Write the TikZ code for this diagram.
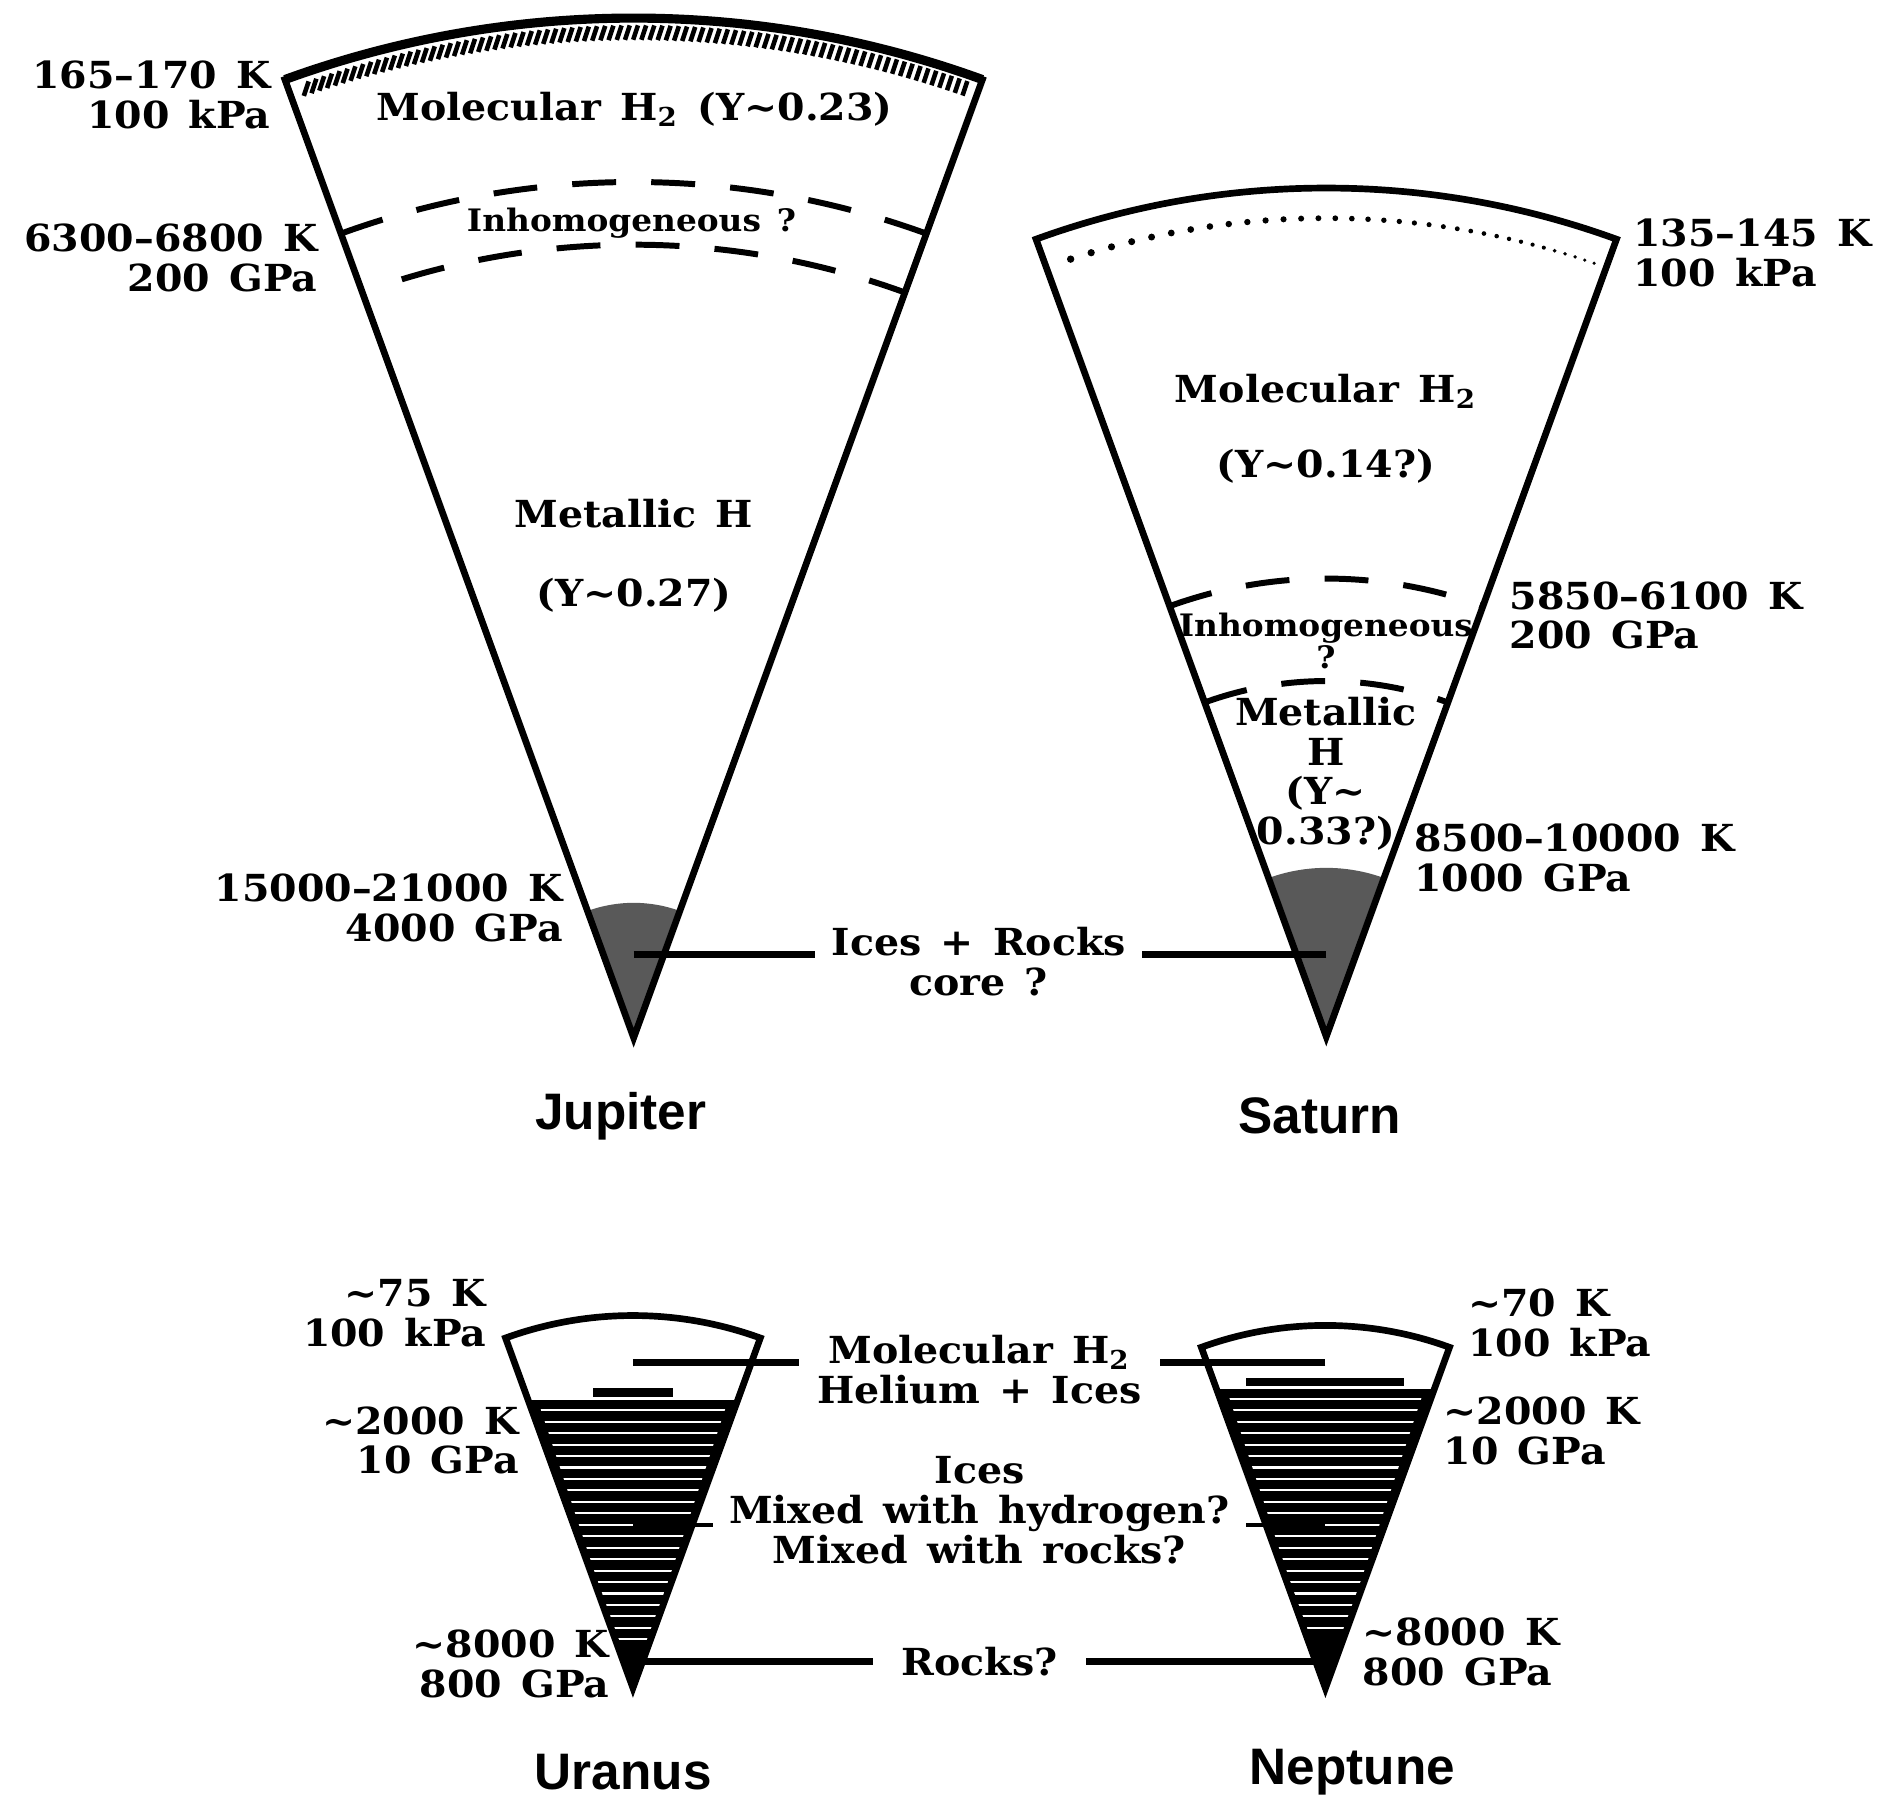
\documentclass[tikz,border=0pt]{standalone}
\usepackage{fontspec}
\newfontfamily\labfont{DejaVu Serif}[FakeStretch=1.06, WordSpace=1.4]
\newfontfamily\namefont{Liberation Sans}

\begin{document}
\begin{tikzpicture}[x=0.012054cm, y=-0.012054cm, every node/.style={inner sep=0pt, font={\labfont\bfseries\fontsize{10.6}{11.3}\selectfont}}]
    % 样式
    \tikzstyle{shell} = [line width=1.9pt, line join=miter]
    \tikzstyle{lead} = [line width=2pt]
    \tikzstyle{thinlead} = [line width=1pt]
    \tikzstyle{bound} = [line width=1.7pt, dash pattern=on 12.5pt off 10pt]
    \tikzstyle{core} = [fill=black!65]
    \tikzstyle{stripe} = [draw=white, line width=0.6pt]
    \tikzstyle{rlab} = [anchor=east, align=right]
    \tikzstyle{llab} = [anchor=west, align=left]
    \tikzstyle{smalltext} = [font={\labfont\bfseries\fontsize{8.8}{9.5}\selectfont}]
    \tikzstyle{planet} = [font={\namefont\bfseries\fontsize{14.6}{16}\selectfont}]

    \fill[white] (0,0) rectangle (1568,1509);
    \useasboundingbox (0,0) rectangle (1568,1509);

    % 顶点
    \coordinate (J) at (525.7,861);
    \coordinate (S) at (1100.3,860);
    \coordinate (U) at (525.1,1400.4);
    \coordinate (N) at (1099.6,1400.6);

    % 木星
    \fill[core, shift={(J)}] (0,0) -- (-110:112) arc (-110:-70:112) -- cycle;
    \foreach \a in {-109.3,-108.83,...,-70.7}
        \draw[line width=1.3pt, shift={(J)}] (\a:828) -- ++(4,-12);
    \draw[shell, shift={(J)}] (0,0) -- (-110:846) arc (-110:-70:846) -- cycle;
    \draw[line width=2.6pt, shift={(J)}] (-110:846) arc (-110:-70:846);
    \draw[bound, shift={(J)}] (-110:710) arc (-110:-70:710);
    \draw[bound, shift={(J)}] (-107:658) arc (-107:-70:658);

    \node[rlab] (J1) at (225,79) {165–170 K\\100 kPa};
    \node (J2) at (526.5,91) {Molecular H\textsubscript{2} (Y\textasciitilde0.23)};
    \node[smalltext] (J3) at (524,185) {Inhomogeneous ?};
    \node[rlab] (J4) at (264,214) {6300–6800 K\\200 GPa};
    \node (J5) at (526,426) {Metallic H};
    \node (J6) at (526,494) {(Y\textasciitilde0.27)};
    \node[rlab] (J7) at (467.5,753.5) {15000–21000 K\\4000 GPa};
    \node[planet] (J8) at (515,926) {Jupiter};

    % 土星
    \fill[core, shift={(S)}] (0,0) -- (-110:140) arc (-110:-70:140) -- cycle;
    \draw[shell, shift={(S)}] (0,0) -- (-110:704) arc (-110:-70:704) -- cycle;
    \foreach \i in {0,...,34} {
        \pgfmathsetmacro\s{18*\i-0.147*\i*\i}
        \pgfmathsetmacro\a{-108.2+\s/679*57.296}
        \pgfmathsetmacro\d{1.05-0.55*\i/34}
        \fill[shift={(S)}] (\a:679) circle (\d pt);
    }
    \draw[bound, shift={(S)}] (-110:380) arc (-110:-70:380);
    \draw[bound, shift={(S)}] (-110:295) arc (-110:-70:295);

    \node[llab] (S1) at (1354.6,210) {135–145 K\\100 kPa};
    \node (S2) at (1100,325) {Molecular H\textsubscript{2}};
    \node (S3) at (1100,387) {(Y\textasciitilde0.14?)};
    \node[smalltext] (S4) at (1100,521) {Inhomogeneous};
    \node[smalltext] (S5) at (1100,545) {?};
    \node[align=center] (S6) at (1100,642) {Metallic\\H\\(Y\textasciitilde\\0.33?)};
    \node[llab] (S7) at (1252,510.5) {5850–6100 K\\200 GPa};
    \node[llab] (S8) at (1172.6,712) {8500–10000 K\\1000 GPa};
    \node[planet] (S9) at (1095,926) {Saturn};

    % 核心
    \node[align=center, inner xsep=4.5pt] (C1) at (812,798) {Ices + Rocks\\core ?};
    \coordinate (Jc) at (525.7,792);
    \coordinate (Sc) at (1100.3,792);
    \draw[lead] (Jc) -- (Jc -| C1.west);
    \draw[lead] (Sc) -- (Sc -| C1.east);

    % 天王星
    \begin{scope}
        \clip[shift={(U)}] (0,0) -- (-110:309) arc (-110:-70:309) -- cycle;
        \fill (300,1161.5) rectangle (750,1410);
        \clip[shift={(U)}] (0,0) -- (-108.3:309) arc (-108.3:-71.7:309) -- cycle;
        \foreach \k in {0,...,20}
            \draw[stripe] (300,{1170+9.5*\k}) -- (750,{1170+9.5*\k});
    \end{scope}
    \fill (492,1151.5) rectangle (558,1159);
    \draw[shell, shift={(U)}] (0,0) -- (-110:309) arc (-110:-70:309) -- cycle;

    \node[rlab] (U1) at (404,1089.5) {\textasciitilde75 K\\100 kPa};
    \node[rlab] (U2) at (431,1195) {\textasciitilde2000 K\\10 GPa};
    \node[rlab] (U3) at (506,1380.5) {\textasciitilde8000 K\\800 GPa};
    \node[planet] (U4) at (517,1470) {Uranus};

    % 海王星
    \begin{scope}
        \clip[shift={(N)}] (0,0) -- (-110:301) arc (-110:-70:301) -- cycle;
        \fill (900,1152) rectangle (1300,1410);
        \clip[shift={(N)}] (0,0) -- (-108.3:301) arc (-108.3:-71.7:301) -- cycle;
        \foreach \k in {0,...,20}
            \draw[stripe] (900,{1160.5+9.5*\k}) -- (1300,{1160.5+9.5*\k});
    \end{scope}
    \fill (1034,1143) rectangle (1165,1150);
    \draw[shell, shift={(N)}] (0,0) -- (-110:301) arc (-110:-70:301) -- cycle;

    \node[llab] (N1) at (1217.4,1097.4) {\textasciitilde70 K\\100 kPa};
    \node[llab] (N2) at (1197,1187) {\textasciitilde2000 K\\10 GPa};
    \node[llab] (N3) at (1130,1370.5) {\textasciitilde8000 K\\800 GPa};
    \node[planet] (N4) at (1122,1470) {Neptune};

    % 中间标注
    \node[align=center, inner xsep=5pt] (M1) at (812.6,1136) {Molecular H\textsubscript{2}\\Helium + Ices};
    \node[align=center, inner xsep=4.5pt] (M2) at (812.6,1253) {Ices\\Mixed with hydrogen?\\Mixed with rocks?};
    \node[inner xsep=8pt] (M3) at (812.6,1378.5) {Rocks?};

    \coordinate (U5) at (525.1,1130.5);
    \coordinate (N5) at (1099.6,1130.5);
    \coordinate (U6) at (525.1,1265);
    \coordinate (N6) at (1099.6,1265);
    \coordinate (U7) at (525.1,1378.5);
    \coordinate (N7) at (1099.6,1378.5);
    \draw[lead] (U5) -- (U5 -| M1.west);
    \draw[lead] (N5) -- (N5 -| M1.east);
    \draw[thinlead] (U6) -- (U6 -| M2.west);
    \draw[thinlead] (N6) -- (N6 -| M2.east);
    \draw[lead] (U7) -- (M3.west);
    \draw[lead] (N7) -- (M3.east);
\end{tikzpicture}
\end{document}
